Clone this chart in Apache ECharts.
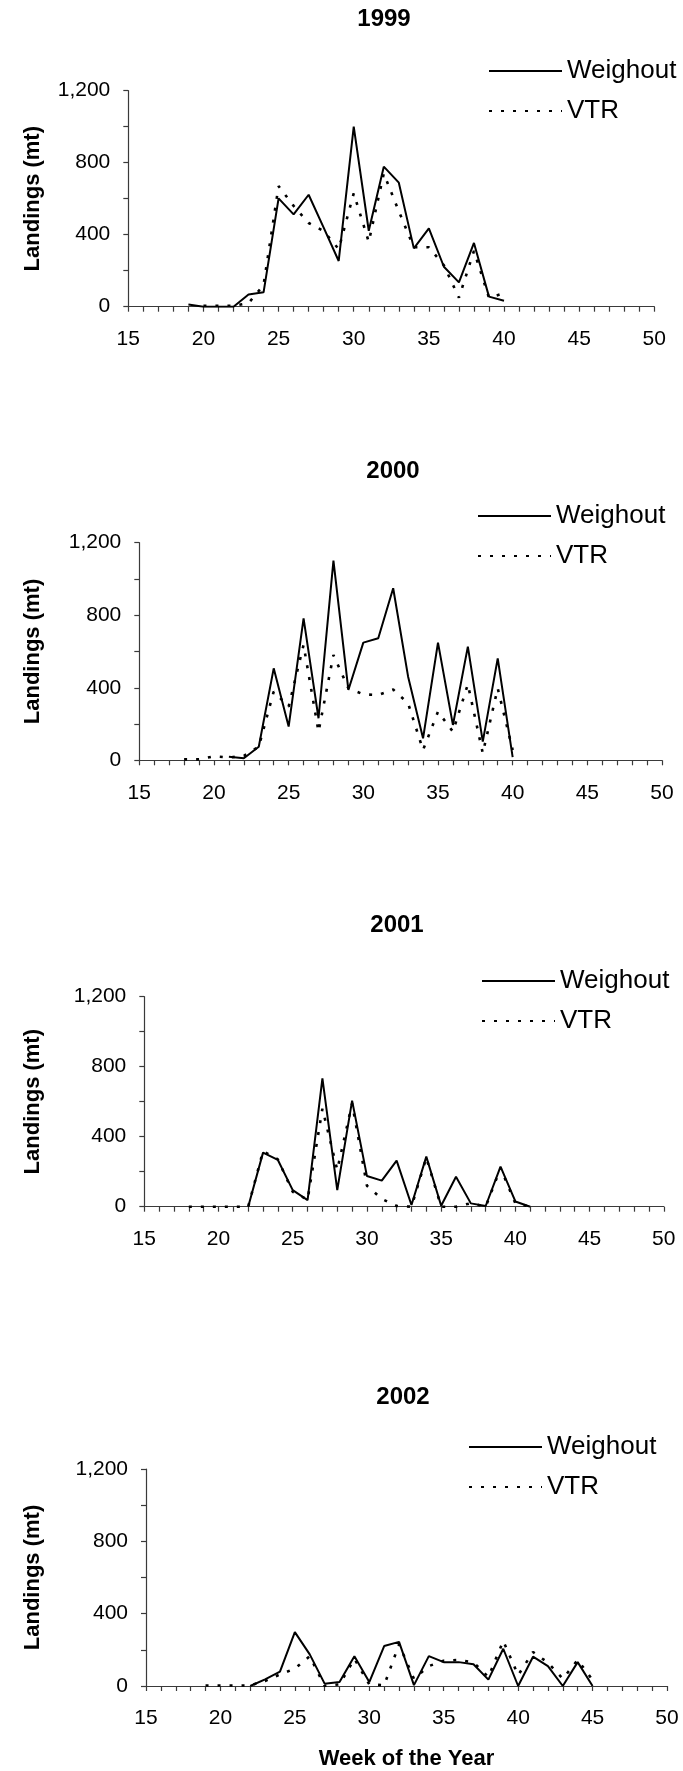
<!DOCTYPE html>
<html>
<head>
<meta charset="utf-8">
<script src="https://cdn.jsdelivr.net/npm/echarts@6/dist/echarts.min.js"></script>
<style>
  html, body { margin: 0; padding: 0; background: #fff; }
  #chart { width: 683px; height: 1771px; }
</style>
</head>
<body>
<div id="chart"></div>
<script>
// Week of the year, shared by every panel (null = no landings reported that week)
const weeks = [18, 19, 20, 21, 22, 23, 24, 25, 26, 27, 28, 29, 30, 31,
               32, 33, 34, 35, 36, 37, 38, 39, 40, 41, 42, 43, 44, 45];

const years = ['1999', '2000', '2001', '2002'];
const seriesNames = ['Weighout', 'VTR'];

// Landings (mt) by week
const weighout1999 = [null, 12, 0, 0, 0, 68, 80, 602, 513, 622, 439, 254, 1000, 422,
                      778, 689, 324, 435, 222, 135, 354, 56, 33, null, null, null, null, null];
const vtr1999      = [null, null, 5, 5, 5, 20, 120, 670, 560, 465, 420, 320, 630, 360,
                      740, 530, 330, 330, 230, 50, 310, 50, 75, null, null, null, null, null];

const weighout2000 = [null, null, null, 20, 11, 75, 507, 186, 783, 232, 1101, 388, 649, 673,
                      949, 461, 121, 649, 195, 627, 103, 562, 17, null, null, null, null, null];
const vtr2000      = [5, 5, 22, 15, 25, 75, 379, 296, 636, 158, 581, 397, 364, 360,
                      390, 314, 57, 268, 158, 419, 39, 397, 57, null, null, null, null, null];

const weighout2001 = [null, null, null, null, 0, 309, 267, 95, 38, 733, 95, 606, 175, 149,
                      263, 10, 286, 5, 171, 19, 4, 229, 30, 0, null, null, null, null];
const vtr2001      = [0, 0, 0, 0, 0, 318, 270, 85, 40, 560, 210, 590, 120, 45,
                      4, 0, 280, 0, 0, 20, 0, 220, 20, 0, null, null, null, null];

const weighout2002 = [null, null, null, null, 0, 37, 79, 298, 175, 13, 22, 165, 22, 221,
                      244, 5, 165, 132, 132, 120, 35, 206, 0, 162, 110, 0, 132, 0];
const vtr2002      = [null, 3, 3, 3, 3, 28, 64, 96, 165, 0, 9, 150, 9, 4,
                      230, 40, 110, 140, 144, 130, 50, 249, 60, 188, 129, 40, 144, 33];

// Axis ranges and tick labels
const xMin = 15, xMax = 50, xLabelStep = 5;
const yMin = 0, yMax = 1200, yTickStep = 200, yLabelStep = 400;
const yAxisTitle = 'Landings (mt)';
const xAxisTitle = 'Week of the Year';

const yearData = [
  [weighout1999, vtr1999],
  [weighout2000, vtr2000],
  [weighout2001, vtr2001],
  [weighout2002, vtr2002]
];

// Panel placement on the page (pixels)
const layout = [
  { grid: { left: 128.3, top: 90.7, width: 526, height: 216 },   title: [384, 7],     legend: [488, 58] },
  { grid: { left: 139.3, top: 542.7, width: 522.7, height: 217.6 }, title: [393, 459.5], legend: [477, 503] },
  { grid: { left: 144.3, top: 996.7, width: 519.5, height: 210 }, title: [397, 913],   legend: [481, 968] },
  { grid: { left: 146, top: 1469, width: 521, height: 217.7 },    title: [403, 1385],  legend: [468, 1434] }
];

const FONT = '"Liberation Sans", Arial, Helvetica, sans-serif';
const INK = '#000';
const AXIS = '#3a3a3a';

function toPoints(values) {
  const pts = [];
  values.forEach((v, i) => { if (v !== null) pts.push([weeks[i], v]); });
  return pts;
}

const grid = [], xAxis = [], yAxis = [], series = [], title = [], legend = [];

years.forEach((year, p) => {
  const L = layout[p];
  const isLast = p === years.length - 1;
  grid.push(Object.assign({ containLabel: false }, L.grid));

  title.push({
    text: year,
    left: L.title[0],
    top: L.title[1],
    textAlign: 'center',
    padding: 0,
    textStyle: { fontFamily: FONT, fontSize: 24, fontWeight: 'bold', color: INK }
  });

  // Legend keys show only the line sample (no marker)
  legend.push({
    data: seriesNames,
    orient: 'vertical',
    left: L.legend[0],
    top: L.legend[1],
    padding: 0,
    itemWidth: 73,
    itemHeight: 26,
    itemGap: 14,
    selectedMode: false,
    itemStyle: { opacity: 0 },
    textStyle: { fontFamily: FONT, fontSize: 26, color: INK }
  });

  xAxis.push({
    type: 'value',
    gridIndex: p,
    min: xMin,
    max: xMax,
    interval: 1,
    name: isLast ? xAxisTitle : '',
    nameLocation: 'middle',
    nameGap: 62,
    nameTextStyle: { fontFamily: FONT, fontSize: 22, fontWeight: 'bold', color: INK },
    axisLine: { lineStyle: { color: AXIS, width: 1.2 } },
    axisTick: { show: true, length: 5, lineStyle: { color: AXIS, width: 1.2 } },
    splitLine: { show: false },
    axisLabel: {
      margin: 22,
      fontFamily: FONT, fontSize: 21, color: INK,
      formatter: v => (v % xLabelStep === 0 ? String(v) : '')
    }
  });

  yAxis.push({
    type: 'value',
    gridIndex: p,
    min: yMin,
    max: yMax,
    interval: yTickStep,
    name: yAxisTitle,
    nameLocation: 'middle',
    nameRotate: 90,
    nameGap: L.grid.left - 44,
    nameTextStyle: { fontFamily: FONT, fontSize: 22, fontWeight: 'bold', color: INK },
    axisLine: { show: true, lineStyle: { color: AXIS, width: 1.2 } },
    axisTick: { show: true, length: 5, lineStyle: { color: AXIS, width: 1.2 } },
    splitLine: { show: false },
    axisLabel: {
      margin: 18,
      fontFamily: FONT, fontSize: 21, color: INK,
      formatter: v => (v % yLabelStep === 0 ? v.toLocaleString('en-US') : '')
    }
  });

  const [w, vtr] = yearData[p];
  series.push({
    name: seriesNames[0],
    type: 'line',
    xAxisIndex: p,
    yAxisIndex: p,
    data: toPoints(w),
    symbol: 'none',
    z: 3,
    lineStyle: { color: INK, width: 2 },
    itemStyle: { color: INK }
  });
  series.push({
    name: seriesNames[1],
    type: 'line',
    xAxisIndex: p,
    yAxisIndex: p,
    data: toPoints(vtr),
    symbol: 'none',
    z: 4,
    lineStyle: { color: INK, width: 2.6, type: [3, 9] },
    itemStyle: { color: INK }
  });
});

const chart = echarts.init(document.getElementById('chart'), null, { renderer: 'canvas' });
chart.setOption({
  backgroundColor: '#fff',
  animation: false,
  title, legend, grid, xAxis, yAxis, series
});
</script>
</body>
</html>
